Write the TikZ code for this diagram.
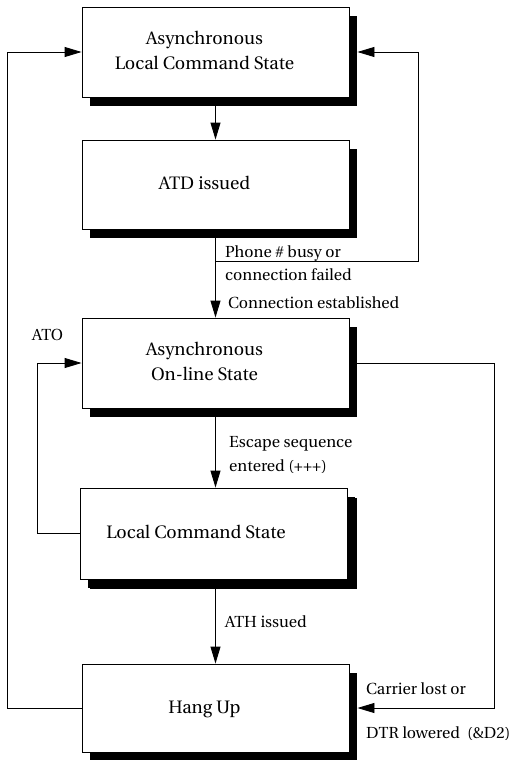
\documentclass[tikz,border=0pt]{standalone}
\usepackage[T1]{fontenc}
\renewcommand{\rmdefault}{put}
\usetikzlibrary{arrows.meta,shadows}
\newcommand{\bxt}[2][-22pt]{\hspace*{#1}\begin{tabular}{@{}c@{}}#2\end{tabular}}
\begin{document}
\begin{tikzpicture}[x=1pt,y=-1pt,
  state/.style={draw, line width=0.9pt, fill=white, minimum width=267pt, inner sep=0pt,
    font=\fontsize{18}{25}\selectfont,
    drop shadow={shadow xshift=8pt,shadow yshift=-9pt,opacity=1,fill=black}},
  lbl/.style={anchor=west, inner sep=0pt, font=\fontsize{16}{18}\selectfont},
  conn/.style={line width=0.9pt},
  arr/.style={conn, -{Triangle[length=17pt,width=10pt]}}]
\useasboundingbox (0,0) rectangle (512,760);
\node[state, minimum height=90pt] (b1) at (215.5,52) {\bxt{Asynchronous\\Local Command State}};
\node[state, minimum height=89pt] (b2) at (215.5,184.5) {\bxt{ATD issued}};
\node[state, minimum height=90pt] (b3) at (215.5,363) {\bxt{Asynchronous\\On-line State}};
\node[state, minimum height=91pt, drop shadow={shadow xshift=10pt,shadow yshift=-10pt,opacity=1,fill=black}] (b4) at (213.5,533.5) {\bxt[-35pt]{Local Command State}};
\node[state, minimum height=88pt] (b5) at (215.5,708) {\bxt{Hang Up}};

\draw[arr] (b1.south) -- (b2.north);
\draw[arr] (b2.south) -- (b3.north);
\path (b2.south) ++(0,32) coordinate (br);
\draw[arr] (br) -- ++(203,0) |- ([xshift=8pt]b1.east);
\draw[arr] (b3.south) -- (b3.south |- b4.north);
\draw[arr] (b5.north |- b4.south) -- (b5.north);
\draw[arr] (b5.west) -- ++(-74,0) |- (b1.west);
\draw[arr] (b4.west) -- ++(-42,0) |- (b3.west);
\draw[arr] (b3.east) -- ++(145,0) |- ([xshift=8pt]b5.east);

\node[lbl] (l1) at (225,253) {Phone \# busy or};
\node[lbl] (l2) at (225,275) {connection failed};
\node[lbl] (l3) at (228,303) {Connection established};
\node[lbl] (l4) at (32,335) {ATO};
\node[lbl] (l5) at (229,444) {Escape sequence};
\node[lbl] (l6) at (229,466) {entered (+++)};
\node[lbl] (l7) at (225,622) {ATH issued};
\node[lbl] (l8) at (366,689) {Carrier lost or};
\node[lbl] (l9) at (366,733) {DTR lowered\ \ (\&D2)};
\end{tikzpicture}
\end{document}
